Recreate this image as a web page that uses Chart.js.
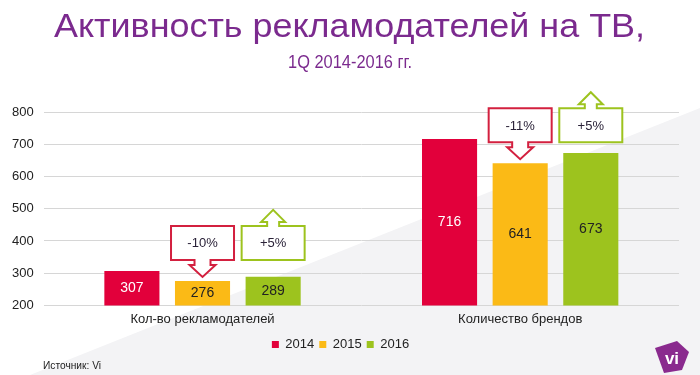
<!DOCTYPE html>
<html>
<head>
<meta charset="utf-8">
<script src="https://cdn.jsdelivr.net/npm/chart.js@4"></script>
<style>
    html,body{margin:0;padding:0;background:#fff;}
    #wrap{width:700px;height:375px;position:relative;}
</style>
</head>
<body>
<div id="wrap"><canvas id="grafico"></canvas></div>
<script>

// ---------------------
// DADOS
// ---------------------

const categorias=["Кол-во рекламодателей","Количество брендов"];
const anos=["2014","2015","2016"];
const vendas2014=[307,716];
const vendas2015=[276,641];
const vendas2016=[289,673];
const variacao2015=["-10%","-11%"];
const variacao2016=["+5%","+5%"];
const ticksY=[200,300,400,500,600,700,800];

const cores=["#e2003b","#fbba16","#9dc31e"];
const coresTexto=["#ffffff","#222222","#222222"];

const titulo="Активность рекламодателей на ТВ,";
const subtitulo="1Q 2014-2016 гг.";
const fonte="Источник: Vi";

const ROXO="#7b2a8e";

// ---------------------
// PLUGINS
// ---------------------

// texto comprimido para caber numa largura
function textoLargura(ctx,txt,cx,y,largura){
    const w=ctx.measureText(txt).width;
    ctx.save();
    ctx.translate(cx,y);
    ctx.scale(largura/w,1);
    ctx.textAlign="center";
    ctx.fillText(txt,0,0);
    ctx.restore();
}

// fundo com faixa diagonal cinza + título
const fundoPlugin={
    id:"fundo",
    beforeDraw(chart){
        const ctx=chart.ctx;
        const w=chart.width,h=chart.height;
        ctx.save();
        ctx.fillStyle="#ffffff";
        ctx.fillRect(0,0,w,h);
        ctx.fillStyle="#f3f3f5";
        ctx.beginPath();
        ctx.moveTo(30,h);
        ctx.lineTo(w,108);
        ctx.lineTo(w,h);
        ctx.closePath();
        ctx.fill();

        ctx.fillStyle=ROXO;
        ctx.textBaseline="alphabetic";
        ctx.font="34px 'Liberation Sans',Arial,sans-serif";
        textoLargura(ctx,titulo,349.5,37,591);
        ctx.font="18px 'Liberation Sans',Arial,sans-serif";
        textoLargura(ctx,subtitulo,350,68,124);
        ctx.restore();
    }
};

// valores dentro das barras
const valoresPlugin={
    id:"valores",
    afterDatasetsDraw(chart){
        const ctx=chart.ctx;
        const fundo=chart.chartArea.bottom;
        ctx.save();
        ctx.font="14px 'Liberation Sans',Arial,sans-serif";
        ctx.textAlign="center";
        ctx.textBaseline="middle";
        chart.data.datasets.forEach((ds,d)=>{
            const meta=chart.getDatasetMeta(d);
            meta.data.forEach((bar,i)=>{
                ctx.fillStyle=coresTexto[d];
                ctx.fillText(ds.data[i],bar.x,(bar.y+Math.min(bar.base,fundo))/2);
            });
        });
        ctx.restore();
    }
};

function caixaSeta(ctx,cx,topo,base,baixo){
    const hw=31.5;
    ctx.beginPath();
    if(baixo){
        ctx.moveTo(cx-hw,topo);
        ctx.lineTo(cx+hw,topo);
        ctx.lineTo(cx+hw,base);
        ctx.lineTo(cx+8,base);
        ctx.lineTo(cx+8,base+5);
        ctx.lineTo(cx+13,base+5);
        ctx.lineTo(cx,base+17);
        ctx.lineTo(cx-13,base+5);
        ctx.lineTo(cx-8,base+5);
        ctx.lineTo(cx-8,base);
        ctx.lineTo(cx-hw,base);
    }else{
        ctx.moveTo(cx-hw,base);
        ctx.lineTo(cx-hw,topo);
        ctx.lineTo(cx-6,topo);
        ctx.lineTo(cx-6,topo-4);
        ctx.lineTo(cx-12,topo-4);
        ctx.lineTo(cx,topo-16);
        ctx.lineTo(cx+12,topo-4);
        ctx.lineTo(cx+6,topo-4);
        ctx.lineTo(cx+6,topo);
        ctx.lineTo(cx+hw,topo);
        ctx.lineTo(cx+hw,base);
    }
    ctx.closePath();
    ctx.fillStyle="#ffffff";
    ctx.fill();
    ctx.stroke();
}

// caixas de variação
const variacaoPlugin={
    id:"variacao",
    afterDatasetsDraw(chart){
        const ctx=chart.ctx;
        const m15=chart.getDatasetMeta(1);
        const m16=chart.getDatasetMeta(2);
        ctx.save();
        ctx.lineWidth=2;
        ctx.lineJoin="miter";
        categorias.forEach((c,i)=>{
            const b15=m15.data[i],b16=m16.data[i];
            const base=b15.y-21;
            const topo=base-34;

            ctx.strokeStyle="#d3203f";
            caixaSeta(ctx,b15.x,topo,base,true);
            ctx.strokeStyle="#9dc31e";
            caixaSeta(ctx,b16.x,topo,base,false);

            ctx.fillStyle="#2a2238";
            ctx.font="13px 'Liberation Sans',Arial,sans-serif";
            ctx.textAlign="center";
            ctx.textBaseline="middle";
            ctx.fillText(variacao2015[i],b15.x,(topo+base)/2+1);
            ctx.fillText(variacao2016[i],b16.x,(topo+base)/2+1);
        });
        ctx.restore();
    }
};

// fonte e logo
const rodapePlugin={
    id:"rodape",
    afterDraw(chart){
        const ctx=chart.ctx;
        ctx.save();
        ctx.fillStyle="#222";
        ctx.font="11px 'Liberation Sans',Arial,sans-serif";
        ctx.textBaseline="middle";
        ctx.textAlign="left";
        const w=ctx.measureText(fonte).width;
        ctx.translate(43,366);
        ctx.scale(58/w,1);
        ctx.fillText(fonte,0,0);
        ctx.restore();

        ctx.save();
        ctx.fillStyle="#8a2a8e";
        ctx.beginPath();
        ctx.moveTo(655,348);
        ctx.lineTo(677,341);
        ctx.lineTo(689,352);
        ctx.lineTo(682,370);
        ctx.lineTo(664,373);
        ctx.closePath();
        ctx.fill();
        ctx.fillStyle="#fff";
        ctx.font="bold 17px 'Liberation Sans',Arial,sans-serif";
        ctx.textAlign="center";
        ctx.textBaseline="middle";
        ctx.fillText("vi",672,359);
        ctx.restore();
    }
};

// ---------------------
// GRÁFICO
// ---------------------

function renderGrafico(){

    new Chart(document.getElementById("grafico"),{

        type:"bar",

        data:{
            labels:categorias,
            datasets:anos.map((a,k)=>({
                label:a,
                data:[vendas2014,vendas2015,vendas2016][k],
                backgroundColor:cores[k],
                categoryPercentage:0.667,
                barPercentage:0.78
            }))
        },

        options:{
            responsive:true,
            maintainAspectRatio:false,
            animation:false,
            layout:{padding:{top:112,left:2,right:21,bottom:14}},
            plugins:{
                legend:{
                    position:"bottom",
                    labels:{
                        boxWidth:7,
                        boxHeight:7,
                        padding:5,
                        color:"#222",
                        font:{size:13,family:"'Liberation Sans',Arial,sans-serif"}
                    }
                },
                tooltip:{enabled:false}
            },
            scales:{
                x:{
                    grid:{display:false,drawTicks:false},
                    border:{display:false},
                    ticks:{
                        color:"#222",
                        padding:6,
                        font:{size:13,family:"'Liberation Sans',Arial,sans-serif"}
                    }
                },
                y:{
                    min:ticksY[0],
                    max:ticksY[ticksY.length-1],
                    border:{display:false},
                    grid:{color:"#d6d6d6",drawTicks:false},
                    afterBuildTicks(axis){
                        axis.ticks=ticksY.map(v=>({value:v}));
                    },
                    ticks:{
                        color:"#222",
                        padding:10,
                        font:{size:13,family:"'Liberation Sans',Arial,sans-serif"}
                    }
                }
            }
        },

        plugins:[fundoPlugin,valoresPlugin,variacaoPlugin,rodapePlugin]

    });

}

renderGrafico();

</script>
</body>
</html>
